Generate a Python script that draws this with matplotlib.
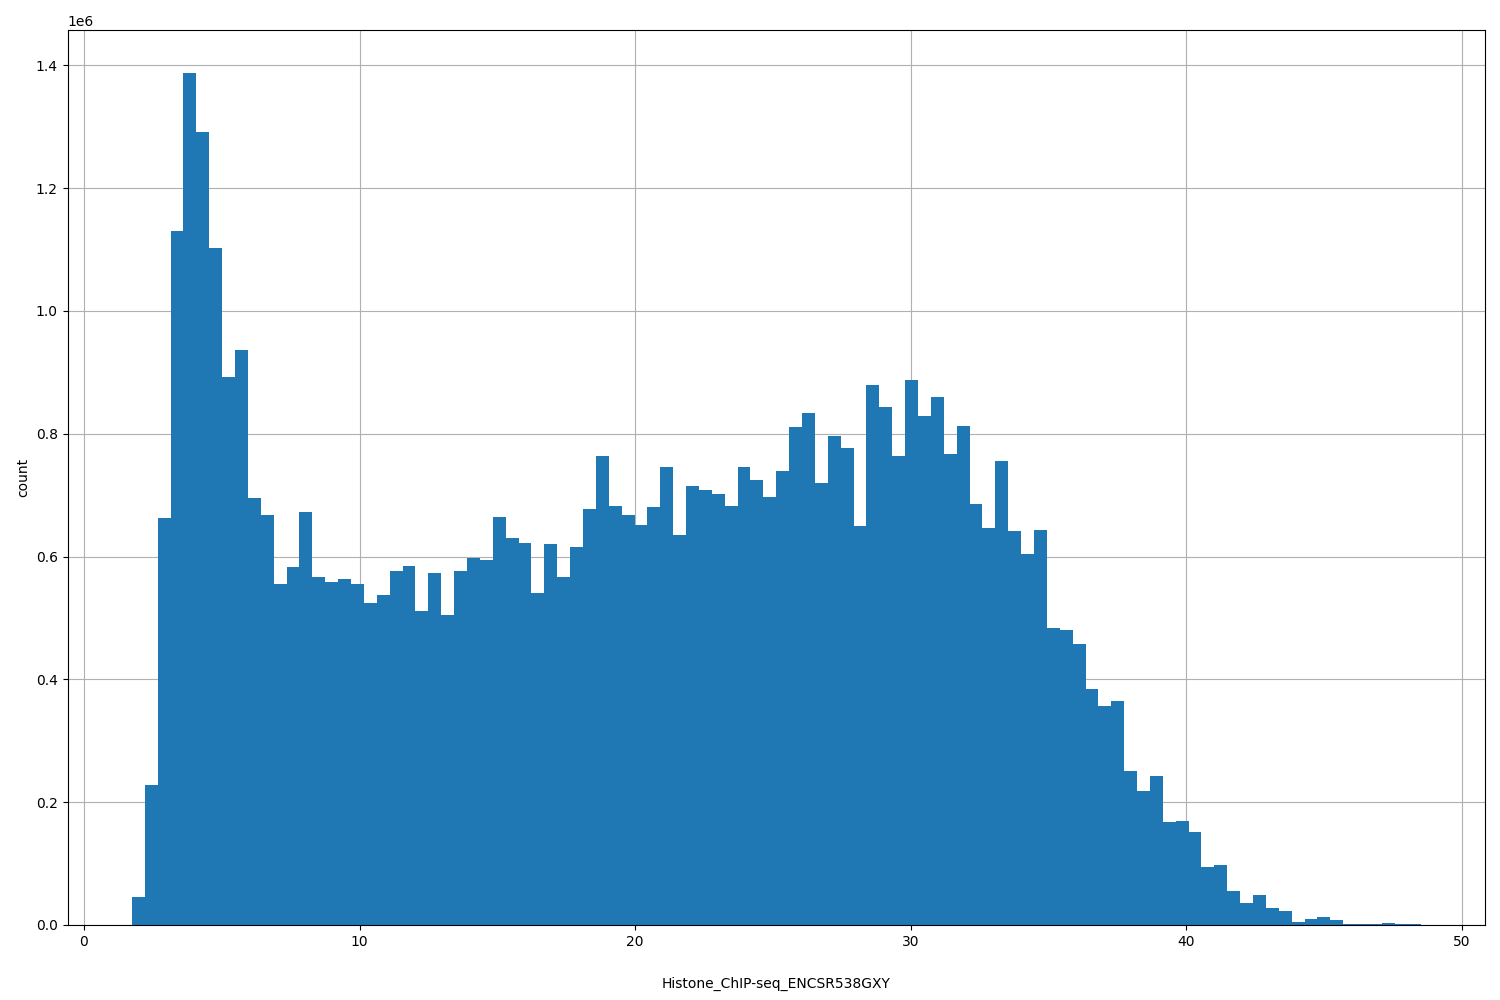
import numpy as np
import matplotlib
matplotlib.use("Agg")
import matplotlib.pyplot as plt

x_min, x_max, n_bins = 1.74, 48.5, 100
counts = [0.045,0.228,0.662,1.13,1.388,1.292,1.102,0.893,0.937,0.695,
0.668,0.555,0.583,0.673,0.566,0.558,0.564,0.555,0.525,0.537,
0.577,0.585,0.512,0.573,0.504,0.577,0.598,0.595,0.665,0.630,
0.622,0.541,0.620,0.567,0.616,0.677,0.764,0.682,0.668,0.652,
0.680,0.746,0.635,0.715,0.709,0.702,0.683,0.746,0.725,0.697,
0.740,0.811,0.834,0.720,0.797,0.777,0.650,0.880,0.844,0.764,
0.887,0.829,0.859,0.767,0.813,0.686,0.647,0.756,0.642,0.604,
0.644,0.483,0.481,0.457,0.384,0.356,0.364,0.250,0.219,0.242,
0.167,0.170,0.152,0.095,0.098,0.056,0.036,0.049,0.028,0.023,
0.005,0.010,0.013,0.008,0.002,0.002,0.002,0.004,0.002,0.002]
counts = np.array(counts) * 1e6

edges = np.linspace(x_min, x_max, n_bins + 1)
centers = (edges[:-1] + edges[1:]) / 2

fig, ax = plt.subplots(figsize=(15, 10), dpi=100)
ax.hist(centers, bins=edges, weights=counts, color="#1f77b4", zorder=2,
        histtype="stepfilled", linewidth=0)
ax.grid(True, zorder=0)
ax.set_axisbelow(True)
ax.set_xlabel("Histone_ChIP-seq_ENCSR538GXY", labelpad=20)
ax.set_ylabel("count")
plt.subplots_adjust(left=0.045, right=0.99, top=0.97, bottom=0.075)
fig.savefig("out.png")
